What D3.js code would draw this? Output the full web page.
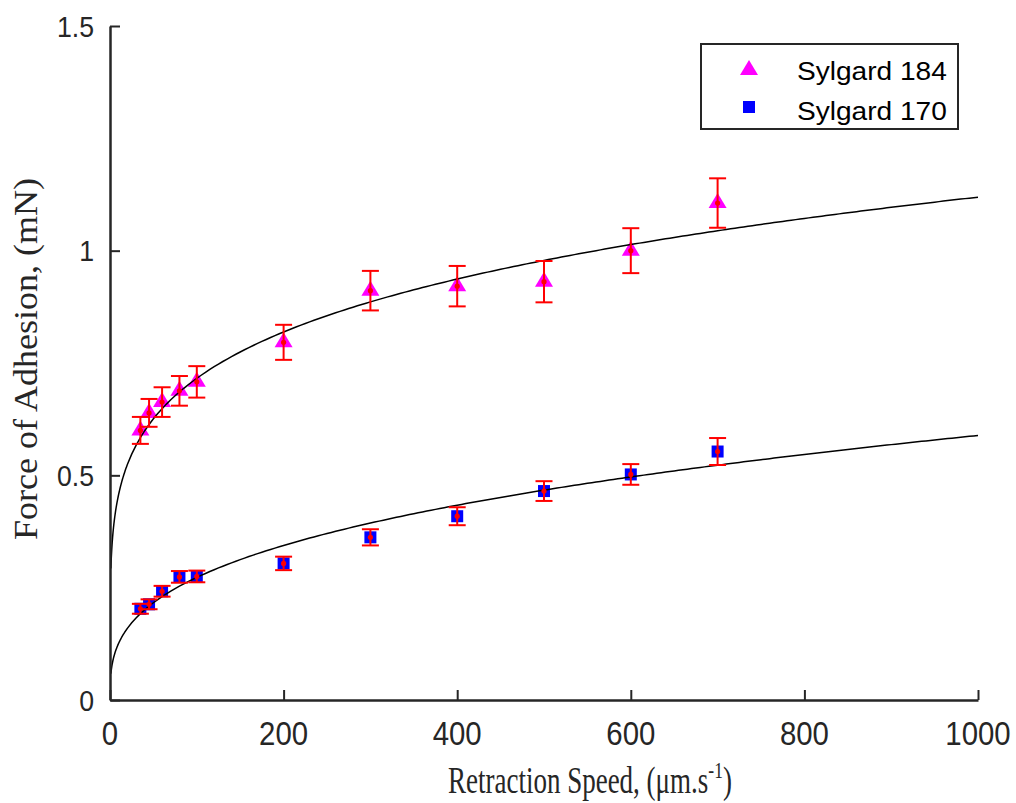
<!DOCTYPE html>
<html>
<head>
<meta charset="utf-8">
<script src="https://cdn.jsdelivr.net/npm/d3@7"></script>
<style>
  html, body { margin: 0; padding: 0; background: #fff; }
  svg { display: block; }
</style>
</head>
<body>
<svg id="chart" width="1016" height="803"></svg>
<script>
// Retraction speed (µm/s) at which adhesion was measured
const speeds = [35, 45, 60, 80, 100, 200, 300, 400, 500, 600, 700];

// Sylgard 184: mean adhesion force (mN) and error
const sylgard184 = [0.600, 0.639, 0.663, 0.688, 0.708, 0.796, 0.911, 0.921, 0.931, 1.000, 1.106];
const sylgard184Err = [0.030, 0.031, 0.033, 0.033, 0.035, 0.039, 0.044, 0.045, 0.046, 0.050, 0.055];

// Sylgard 170: mean adhesion force (mN) and error
const sylgard170 = [0.203, 0.213, 0.242, 0.274, 0.275, 0.304, 0.362, 0.409, 0.465, 0.502, 0.553];
const sylgard170Err = [0.011, 0.011, 0.012, 0.013, 0.013, 0.015, 0.018, 0.020, 0.022, 0.023, 0.030];

// Power-law fits F = a * v^b
const fit184 = [0.293, 0.194];
const fit170 = [0.0586, 0.334];

const xTicks = [0, 200, 400, 600, 800, 1000];
const yTicks = [0, 0.5, 1, 1.5];
const yTickLabels = ["0", "0.5", "1", "1.5"];
const seriesNames = ["Sylgard 184", "Sylgard 170"];

const svg = d3.select("#chart");
const sans = "'Liberation Sans', Arial, sans-serif";
const serif = "'Liberation Serif', 'Times New Roman', serif";
const axisColor = "#262626";

const x = d3.scaleLinear().domain([0, 1000]).range([110, 978]);
const y = d3.scaleLinear().domain([0, 1.5]).range([700, 26]);

// Fitted curves
const fitLine = d3.line().x(d => x(d[0])).y(d => y(d[1]));
function fitPoints(p) {
  const pts = [];
  for (let v = 1; v <= 1000; v += (v < 20 ? 0.5 : 5)) pts.push([v, p[0] * Math.pow(v, p[1])]);
  pts.push([1000, p[0] * Math.pow(1000, p[1])]);
  return pts;
}

const rows184 = speeds.map((s, i) => ({ s, v: sylgard184[i], e: sylgard184Err[i] }));
const rows170 = speeds.map((s, i) => ({ s, v: sylgard170[i], e: sylgard170Err[i] }));

const triPath = "M0,-10 L9,5 L-9,5 Z";

// Markers
const plot = svg.append("g");
plot.selectAll("path.tri").data(rows184).join("path")
  .attr("class", "tri")
  .attr("d", triPath)
  .attr("transform", d => `translate(${x(d.s)},${y(d.v)})`)
  .attr("fill", "#ff00ff");

plot.selectAll("rect.sq").data(rows170).join("rect")
  .attr("class", "sq")
  .attr("x", d => x(d.s) - 6)
  .attr("y", d => y(d.v) - 6)
  .attr("width", 12).attr("height", 12)
  .attr("fill", "#0000ff");

// Fit curves
[fit184, fit170].forEach(p => {
  plot.append("path")
    .attr("d", fitLine(fitPoints(p)))
    .attr("fill", "none")
    .attr("stroke", "#000")
    .attr("stroke-width", 1.5);
});

// Error bars with centre dots
function errorBars(rows) {
  const g = plot.append("g").attr("stroke", "#ff0000").attr("stroke-width", 2);
  rows.forEach(d => {
    const cx = x(d.s), lo = y(d.v - d.e), hi = y(d.v + d.e);
    g.append("line").attr("x1", cx).attr("x2", cx).attr("y1", lo).attr("y2", hi);
    g.append("line").attr("x1", cx - 8.5).attr("x2", cx + 8.5).attr("y1", lo).attr("y2", lo);
    g.append("line").attr("x1", cx - 8.5).attr("x2", cx + 8.5).attr("y1", hi).attr("y2", hi);
    plot.append("circle").attr("cx", cx).attr("cy", y(d.v)).attr("r", 2.6).attr("fill", "#ff0000");
  });
}
errorBars(rows184);
errorBars(rows170);

// Axes (left and bottom, ticks pointing inward)
const xAxis = d3.axisBottom(x).tickValues(xTicks).tickSizeInner(-10).tickSizeOuter(0).tickFormat("");
const yAxis = d3.axisLeft(y).tickValues(yTicks).tickSizeInner(-10).tickSizeOuter(0).tickFormat("");

const gx = svg.append("g").attr("transform", `translate(0,${y(0)})`).call(xAxis);
const gy = svg.append("g").attr("transform", `translate(${x(0)},0)`).call(yAxis);
[gx, gy].forEach(g => {
  g.select(".domain").attr("stroke", axisColor).attr("stroke-width", 2.5);
  g.selectAll(".tick line").attr("stroke", axisColor).attr("stroke-width", 2);
});

// Tick labels
svg.append("g").selectAll("text").data(xTicks).join("text")
  .attr("transform", d => `translate(${x(d)},745) scale(0.865,1)`)
  .attr("text-anchor", "middle")
  .attr("font-family", sans).attr("font-size", 34).attr("fill", "#262626")
  .text(d => d);

svg.append("g").selectAll("text").data(yTicks).join("text")
  .attr("transform", d => `translate(94,${y(d) + 10.5}) scale(0.92,1)`)
  .attr("text-anchor", "end")
  .attr("font-family", sans).attr("font-size", 29).attr("fill", "#262626")
  .text((d, i) => yTickLabels[i]);

// Axis titles
const xTitle = svg.append("text")
  .attr("font-family", serif).attr("font-size", 37).attr("fill", "#262626");
xTitle.append("tspan").text("Retraction Speed, (\u03bcm.s");
xTitle.append("tspan").attr("font-size", 24).attr("dy", -15).text("-1");
xTitle.append("tspan").attr("dy", 15).text(")");
{
  const w = xTitle.node().getBBox().width;
  xTitle.attr("transform", `translate(448,793) scale(${284 / w},1)`);
}

const yTitle = svg.append("text")
  .attr("font-family", serif).attr("font-size", 34).attr("fill", "#262626")
  .attr("text-anchor", "middle")
  .text("Force of Adhesion, (mN)");
{
  const w = yTitle.node().getBBox().width;
  yTitle.attr("transform", `translate(37,359) rotate(-90) scale(${362 / w},1)`);
}

// Legend
const leg = svg.append("g");
leg.append("rect")
  .attr("x", 701).attr("y", 44).attr("width", 257).attr("height", 85)
  .attr("fill", "#fff").attr("stroke", axisColor).attr("stroke-width", 2);
leg.append("path").attr("d", triPath).attr("transform", "translate(749,70)").attr("fill", "#ff00ff");
leg.append("rect").attr("x", 743).attr("y", 101).attr("width", 12).attr("height", 12).attr("fill", "#0000ff");
seriesNames.forEach((name, i) => {
  leg.append("text")
    .attr("transform", `translate(797,${80 + i * 40}) scale(1.08,1)`)
    .attr("font-family", sans).attr("font-size", 26).attr("fill", "#000")
    .text(name);
});
</script>
</body>
</html>
